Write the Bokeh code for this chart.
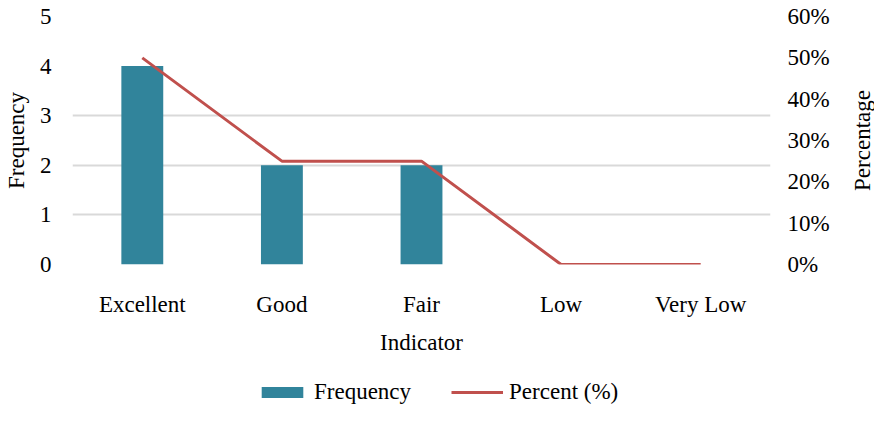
from bokeh.plotting import figure
from bokeh.layouts import column, row
from bokeh.models import (FactorRange, Range1d, LinearAxis, FixedTicker,
                          PrintfTickFormatter, Legend, LegendItem, ColumnDataSource)
from bokeh.embed import file_html
from bokeh.resources import INLINE

categories = ["Excellent", "Good", "Fair", "Low", "Very Low"]
frequency = [4, 2, 2, 0, 0]
percent = [50, 25, 25, 0, 0]
freq_ticks = [0, 1, 2, 3, 4, 5]
pct_ticks = [0, 10, 20, 30, 40, 50, 60]

FONT = "Liberation Serif"
FS = "23px"
BAR_COLOR = "#31849B"
LINE_COLOR = "#C0504D"

MAIN_W = 846
MAIN_H = 379

src = ColumnDataSource(dict(cat=categories, freq=frequency, pct=percent))

p = figure(width=MAIN_W, height=MAIN_H, x_range=FactorRange(*categories, range_padding=0),
           y_range=Range1d(0, 5), output_backend="svg", toolbar_location=None,
           min_border_left=65, min_border_right=76, min_border_top=16, min_border_bottom=115)
p.outline_line_color = None
p.background_fill_color = "white"

p.extra_y_ranges = {"pct": Range1d(0, 60)}

p.vbar(x="cat", top="freq", width=0.3, source=src, color=BAR_COLOR, line_color=None)
p.line(x="cat", y="pct", source=src, y_range_name="pct", line_color=LINE_COLOR, line_width=3)

p.xgrid.visible = False
p.ygrid.ticker = FixedTicker(ticks=[1, 2, 3, 5])
p.ygrid.grid_line_color = "#D9D9D9"
p.ygrid.grid_line_width = 2

def style(ax):
    ax.axis_line_color = None
    ax.major_tick_line_color = None
    ax.minor_tick_line_color = None
    ax.major_tick_out = 0
    ax.major_tick_in = 0
    ax.minor_tick_out = 0
    ax.major_label_text_font = FONT
    ax.major_label_text_font_size = FS
    ax.major_label_text_color = "#000000"
    ax.axis_label_text_font = FONT
    ax.axis_label_text_font_size = FS
    ax.axis_label_text_font_style = "normal"
    ax.axis_label_text_color = "#000000"

yl = p.yaxis[0]
yl.ticker = FixedTicker(ticks=freq_ticks)
yl.axis_label = "Frequency"
yl.major_label_standoff = 21
yl.axis_label_standoff = 8
style(yl)

xa = p.xaxis[0]
xa.axis_label = "Indicator"
xa.major_label_standoff = 27
xa.axis_label_standoff = 10
style(xa)

yr = LinearAxis(y_range_name="pct", ticker=FixedTicker(ticks=pct_ticks),
                formatter=PrintfTickFormatter(format="%d%%"))
yr.major_label_standoff = 17
style(yr)
p.add_layout(yr, "right")

# narrow strip carrying the right-hand axis title, reading bottom to top
side = figure(width=28, height=MAIN_H, y_range=Range1d(0, 60), x_range=Range1d(0, 1),
              output_backend="svg", toolbar_location=None, x_axis_location=None,
              y_axis_location="left", min_border_left=0, min_border_right=0,
              min_border_top=16, min_border_bottom=115)
side.outline_line_color = None
side.grid.visible = False
sa = side.yaxis[0]
sa.ticker = FixedTicker(ticks=[])
sa.axis_label = "Percentage"
sa.axis_label_standoff = 0
style(sa)

# legend strip: same series as hidden renderers, so only the legend shows
lg = figure(width=MAIN_W, height=26, x_range=FactorRange(*categories), y_range=Range1d(0, 60),
            output_backend="svg", toolbar_location=None, x_axis_location=None,
            y_axis_location=None, min_border=0)
lg.outline_line_color = None
lg.grid.visible = False
b2 = lg.vbar(x="cat", top="freq", width=0.3, source=src, color=BAR_COLOR, line_color=None)
l2 = lg.line(x="cat", y="pct", source=src, line_color=LINE_COLOR, line_width=3)
b2.visible = False
l2.visible = False
legend = Legend(items=[LegendItem(label="Frequency", renderers=[b2]),
                       LegendItem(label="Percent (%)", renderers=[l2])],
                orientation="horizontal", location=(184, 0),
                label_text_font=FONT, label_text_font_size=FS, label_text_color="#000000",
                border_line_color=None, background_fill_alpha=0,
                inactive_fill_alpha=0,
                glyph_width=52, glyph_height=14, spacing=40, padding=0, margin=0,
                label_standoff=6, label_height=20)
lg.add_layout(legend, "center")

layout = row(column(p, lg, spacing=0), side, spacing=0)
open("out.html", "w").write(file_html(layout, INLINE))
